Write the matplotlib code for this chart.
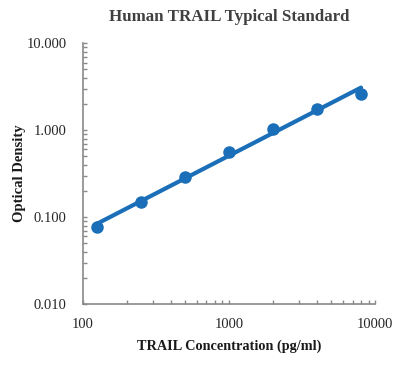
import numpy as np
import matplotlib
matplotlib.use("Agg")
import matplotlib.pyplot as plt
from matplotlib.ticker import FixedLocator, FixedFormatter, LogLocator, NullFormatter

# datos
concentracion = [125, 250, 500, 1000, 2000, 4000, 8000]
densidad = [0.076, 0.150, 0.293, 0.563, 1.02, 1.77, 2.64]

x_ticks = [100, 1000, 10000]
x_labels = ["100", "1000", "10000"]
y_ticks = [0.01, 0.1, 1, 10]
y_labels = ["0.010", "0.100", "1.000", "10.000"]

azul = "#1a6fb8"
gris = "#898989"
texto = "#404040"

plt.rcParams["font.family"] = ["Liberation Serif", "DejaVu Serif"]

fig = plt.figure(figsize=(4.03, 3.8), dpi=100)
ax = fig.add_axes([0.206, 0.2, 0.725, 0.686])

# linea de tendencia potencial (ajuste en log-log)
pend, inter = np.polyfit(np.log10(concentracion), np.log10(densidad), 1)
xs = np.array([concentracion[0], concentracion[-1]])
ax.plot(xs, 10 ** (inter + pend * np.log10(xs)), color=azul, lw=3, solid_capstyle="round", zorder=2)
ax.plot(concentracion, densidad, "o", color=azul, ms=8, zorder=3)

ax.set_xscale("log")
ax.set_yscale("log")
ax.set_xlim(100, 10000)
ax.set_ylim(0.01, 10)

ax.xaxis.set_major_locator(FixedLocator(x_ticks))
ax.xaxis.set_major_formatter(FixedFormatter(x_labels))
ax.yaxis.set_major_locator(FixedLocator(y_ticks))
ax.yaxis.set_major_formatter(FixedFormatter(y_labels))
ax.xaxis.set_minor_locator(LogLocator(base=10, subs=np.arange(2, 10)))
ax.yaxis.set_minor_locator(LogLocator(base=10, subs=np.arange(2, 10)))
ax.xaxis.set_minor_formatter(NullFormatter())
ax.yaxis.set_minor_formatter(NullFormatter())

for lado in ["top", "right"]:
    ax.spines[lado].set_visible(False)
for lado in ["left", "bottom"]:
    ax.spines[lado].set_color(gris)
    ax.spines[lado].set_linewidth(1.2)

ax.tick_params(which="both", direction="in", color=gris, width=1)
ax.tick_params(which="major", length=3, labelsize=10.5, labelcolor="#262626")
ax.tick_params(axis="x", which="major", pad=10)
ax.tick_params(axis="y", which="major", pad=12)
ax.tick_params(which="minor", length=3)

ax.set_title("Human TRAIL Typical Standard", fontsize=12.2, fontweight="bold", color=texto, pad=16)
ax.set_xlabel("TRAIL Concentration (pg/ml)", fontsize=10.3, fontweight="bold", color="#1a1a1a", labelpad=6)
ax.set_ylabel("Optical Density", fontsize=10.5, fontweight="bold", color="#1a1a1a", labelpad=0.5)

fig.savefig("out.png", dpi=100)
